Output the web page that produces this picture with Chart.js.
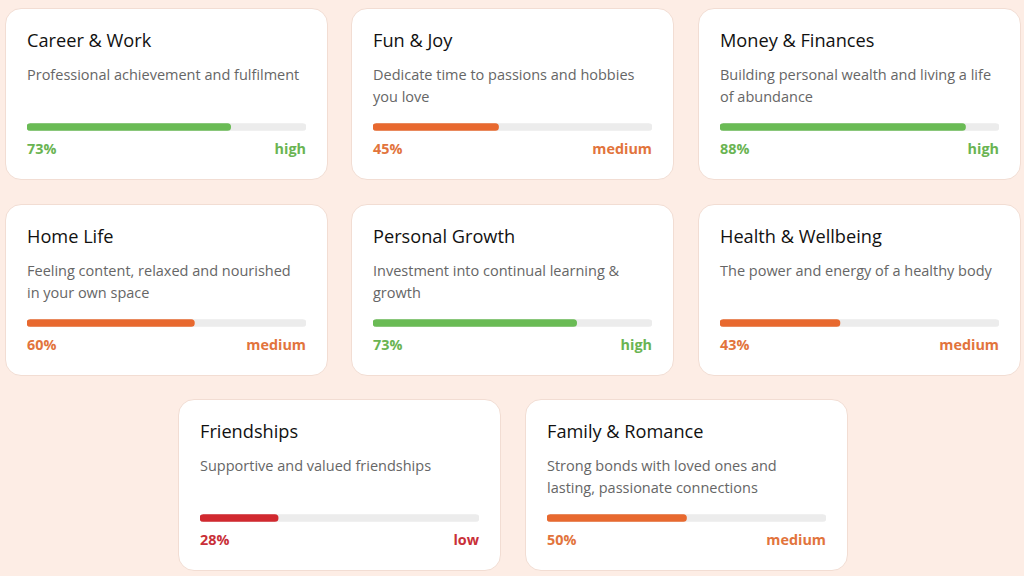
<!DOCTYPE html>
<html><head><meta charset="utf-8">
<script src="https://cdn.jsdelivr.net/npm/chart.js@4.4.1/dist/chart.umd.min.js"></script>
<style>
html,body{margin:0;padding:0;}
body{width:1024px;height:576px;background:#fdede5;font-family:"Open Sans",sans-serif;position:relative;overflow:hidden;}
.card{position:absolute;width:321px;height:170px;background:#fff;border:1px solid #f2ddd3;border-radius:16px;box-sizing:content-box;}
.title{position:absolute;left:21px;top:19px;font-size:18.2px;color:#111;line-height:24px;white-space:nowrap;}
.desc{position:absolute;left:21px;top:55px;width:276px;font-size:14.5px;color:#666;line-height:22px;}
.bar{position:absolute;left:21px;top:112px;width:279px;height:12px;}
.pct,.lvl{position:absolute;top:130px;font-size:14.4px;font-weight:700;line-height:20px;}
.pct{left:21px;}
.lvl{right:21px;}
</style></head><body>
<script>
const titles=["Career & Work","Fun & Joy","Money & Finances","Home Life","Personal Growth","Health & Wellbeing","Friendships","Family & Romance"];
const descriptions=["Professional achievement and fulfilment","Dedicate time to passions and hobbies you love","Building personal wealth and living a life of abundance","Feeling content, relaxed and nourished in your own space","Investment into continual learning & growth","The power and energy of a healthy body","Supportive and valued friendships","Strong bonds with loved ones and lasting, passionate connections"];
const values=[73,45,88,60,73,43,28,50];
const levels=["high","medium","high","medium","high","medium","low","medium"];

const barColors={high:"#6abb55",medium:"#e8692f",low:"#d1292f"};
const textColors={high:"#6ab452",medium:"#e2743c",low:"#c93038"};
const positions=[[5,8],[351,8],[698,8],[5,204],[351,204],[698,204],[178,399],[525,399]];

titles.forEach((t,i)=>{
  const c=document.createElement('div');c.className='card';
  c.style.left=positions[i][0]+'px';c.style.top=positions[i][1]+'px';
  const lv=levels[i];
  c.innerHTML='<div class="title"></div><div class="desc"></div><div class="bar"><canvas></canvas></div><div class="pct"></div><div class="lvl"></div>';
  c.querySelector('.title').textContent=t;
  c.querySelector('.desc').textContent=descriptions[i];
  const p=c.querySelector('.pct');p.textContent=values[i]+'%';p.style.color=textColors[lv];
  const l=c.querySelector('.lvl');l.textContent=lv;l.style.color=textColors[lv];
  document.body.appendChild(c);
  new Chart(c.querySelector('canvas'),{
    type:'bar',
    data:{labels:[t],datasets:[
      {data:[values[i]],backgroundColor:barColors[lv],barThickness:7,borderRadius:4,borderSkipped:false,grouped:false,order:0},
      {data:[100],backgroundColor:"#ececec",barThickness:7,borderRadius:4,borderSkipped:false,grouped:false,order:1}
    ]},
    options:{indexAxis:'y',responsive:true,maintainAspectRatio:false,animation:false,
      layout:{padding:0},
      plugins:{legend:{display:false},tooltip:{enabled:false}},
      scales:{x:{display:false,min:0,max:100},y:{display:false}}}
  });
});
</script>
</body></html>
